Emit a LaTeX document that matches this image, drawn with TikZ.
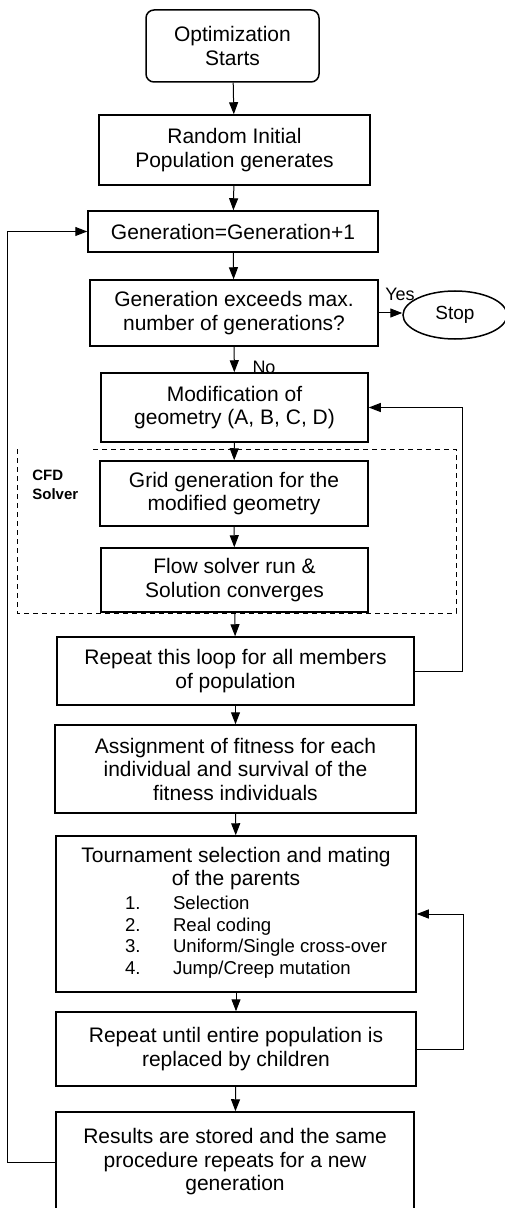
\documentclass[tikz,border=0pt]{standalone}
\usepackage{fontspec}
\setmainfont{Liberation Sans}
\usepackage{tikz}
\usetikzlibrary{arrows.meta,shapes.geometric}

\begin{document}
\begin{tikzpicture}[x=0.5pt,y=-0.5pt,
    font=\fontsize{10.5}{11.75}\selectfont,
    blk/.style={draw, line width=0.75pt, fill=white, align=center, inner sep=0pt},
    arr/.style={-{Triangle[length=6pt,width=4.5pt]}, line width=0.5pt},
    lbl/.style={font=\fontsize{9}{10}\selectfont, inner sep=0pt}]
  \useasboundingbox (0,0) rectangle (504,1208);
  \node [lbl] (Y) at (400,294) {Yes};
  \node [lbl] (N) at (264,367) {No};
  \draw [line width=0.5pt, dash pattern=on 2.5pt off 2pt] (17,449) rectangle (456,613);
  \node [fill=white, anchor=north west, inner xsep=6.5pt, inner ysep=12pt, align=left,
    font=\bfseries\fontsize{7.5}{9.5}\selectfont] (CFD) at (19,446) {CFD\\Solver};
  \node [blk, rounded corners=4pt, minimum width=86.5pt, minimum height=36pt] (S) at (232.5,46) {Optimization\\Starts};
  \node [blk, minimum width=135.5pt, minimum height=35pt] (R) at (234.5,150) {Random Initial\\Population generates};
  \node [blk, minimum width=145pt, minimum height=20.5pt] (G) at (233,231.5) {Generation=Generation+1};
  \node [blk, minimum width=144pt, minimum height=33pt] (E) at (234,313) {Generation exceeds max.\\number of generations?};
  \node [blk, ellipse, minimum width=52pt, minimum height=24pt, font=\fontsize{9.5}{11}\selectfont] (X) at (455,315) {Stop};
  \node [blk, minimum width=133.5pt, minimum height=34.5pt] (M) at (234.5,407.5) {Modification of\\geometry (A, B, C, D)};
  \node [blk, minimum width=134pt, minimum height=32.5pt] (Gr) at (234,493.5) {Grid generation for the\\modified geometry};
  \node [blk, minimum width=133.5pt, minimum height=32pt] (F) at (234.5,580) {Flow solver run \&\\Solution converges};
  \node [blk, minimum width=178.5pt, minimum height=34pt] (L) at (235.5,671) {Repeat this loop for all members\\of population};
  \node [blk, minimum width=180.5pt, minimum height=44pt] (A) at (235.5,769) {Assignment of fitness for each\\individual and survival of the\\fitness individuals};
  \node [blk, minimum width=180pt, minimum height=78pt] (T) at (236,914) {Tournament selection and mating\\of the parents\\
    \hspace*{20pt}\fontsize{9.3}{10.85}\selectfont\begin{tabular}[t]{@{}p{24pt}@{}l@{}}1.&Selection\\2.&Real coding\\3.&Uniform/Single cross-over\\4.&Jump/Creep mutation\end{tabular}};
  \node [blk, minimum width=180pt, minimum height=37pt] (U) at (236,1049) {Repeat until entire population is\\replaced by children};
  \node [blk, minimum width=179pt, minimum height=50pt] (Z) at (235,1162) {Results are stored and the same\\procedure repeats for a new\\generation};
  \draw [arr] (S) -- (R);
  \draw [arr] (R) -- (G);
  \draw [arr] (G) -- (E);
  \draw [arr] (E.east) -- (E.east -| X.west);
  \draw [arr] (E) -- (M);
  \draw [arr] (M) -- (Gr);
  \draw [arr] (Gr) -- (F);
  \draw [arr] (F) -- (L);
  \draw [arr] (L) -- (A);
  \draw [arr] (A) -- (T);
  \draw [arr] (T) -- (U);
  \draw [arr] (U) -- (Z);
  \draw [arr] (L.east) -- ++(48,0) |- (M.east);
  \draw [arr] (U.east) -- ++(47,0) |- (T.east);
  \draw [arr] (Z.west) -- ++(-48,0) |- (G.west);
\end{tikzpicture}
\end{document}
